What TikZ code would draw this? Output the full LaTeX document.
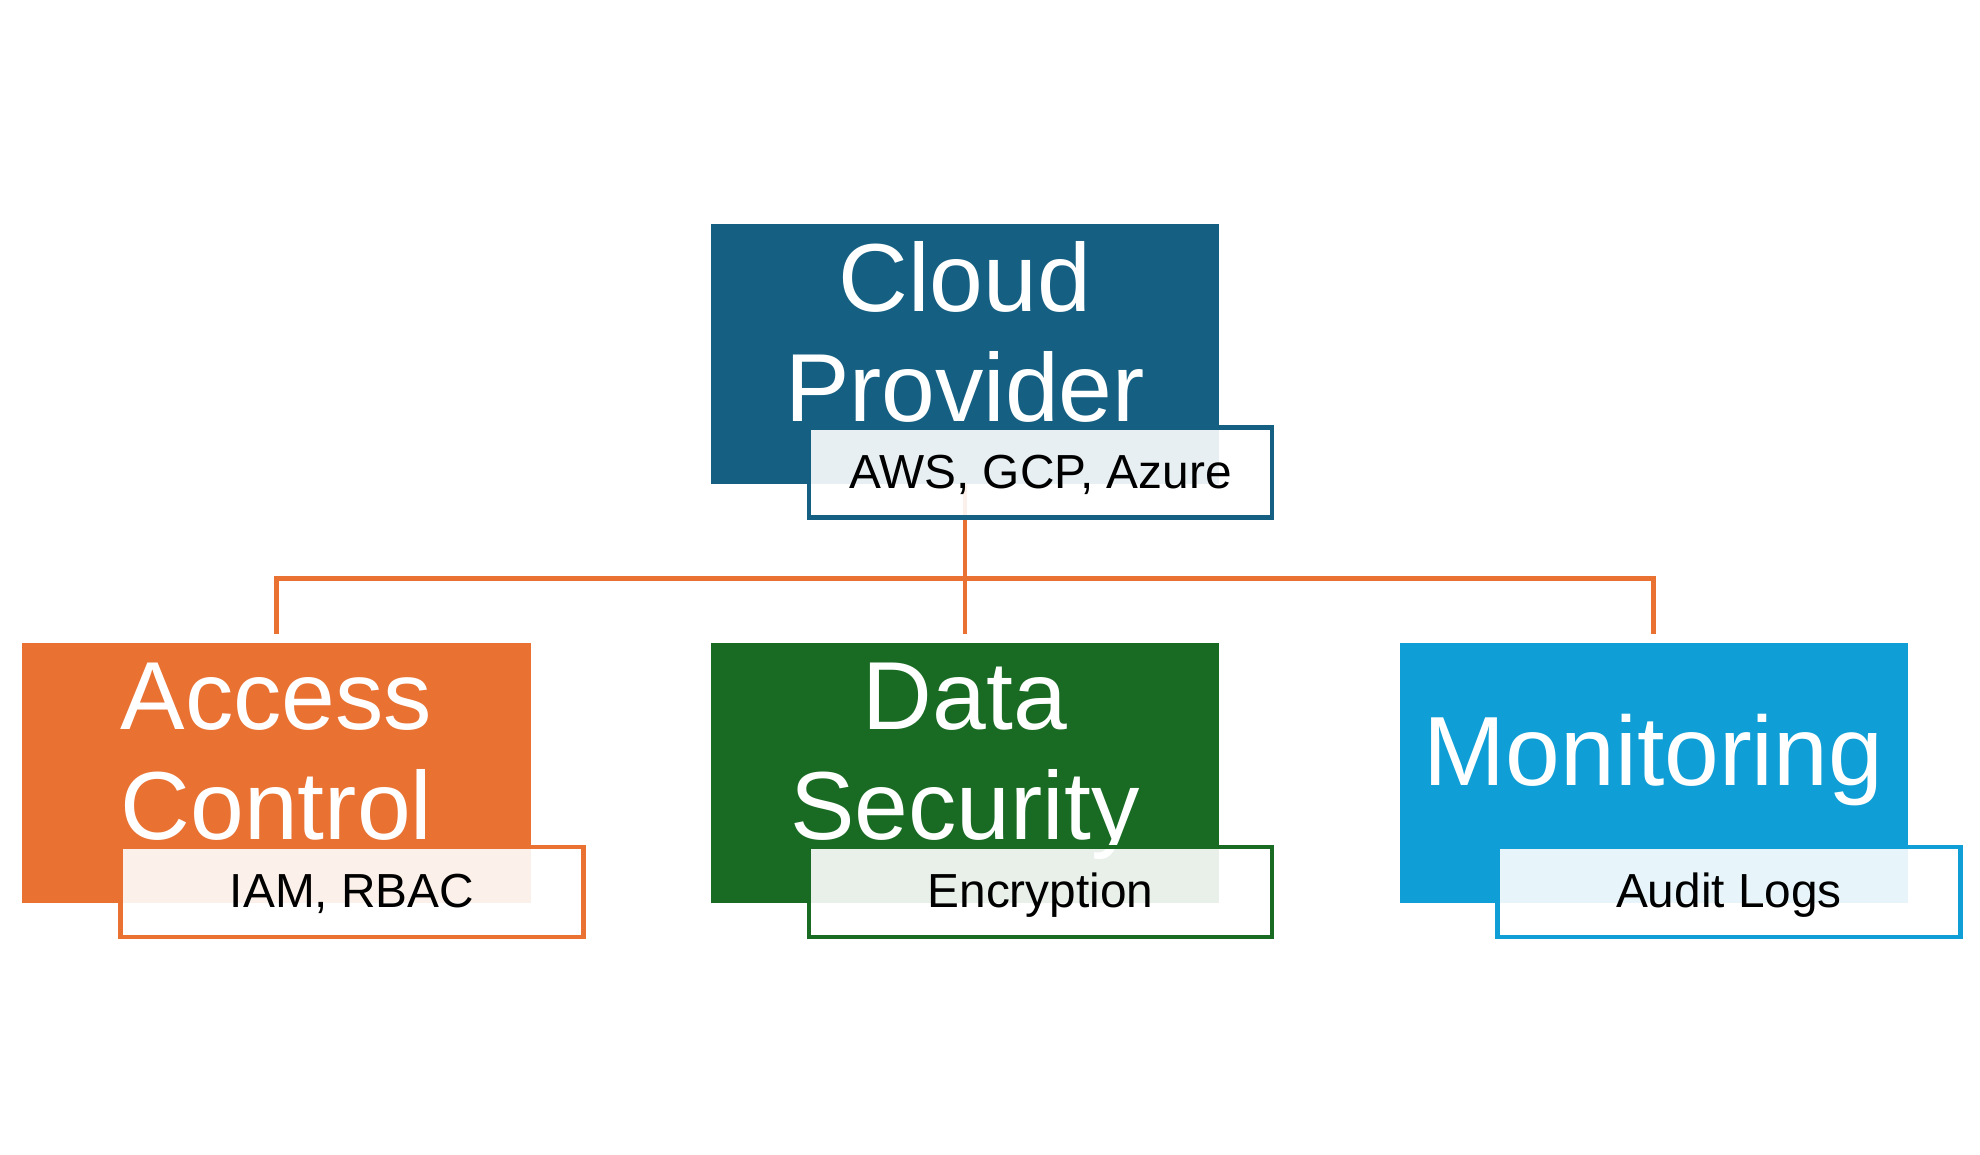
\documentclass[tikz,border=0pt]{standalone}
\usepackage{fontspec}
\setmainfont{Liberation Sans}
\usetikzlibrary{positioning}
\definecolor{cloudblue}{HTML}{156082}
\definecolor{accorange}{HTML}{E97132}
\definecolor{datagreen}{HTML}{196B24}
\definecolor{monblue}{HTML}{0F9ED5}
\begin{document}
\begin{tikzpicture}[align = center, node distance=68.85mm,
    main/.style = {minimum width=50.8mm, minimum height=26mm, inner sep=0pt},
    title/.style = {text=white, font=\fontsize{27.5}{31.3}\selectfont},
    sub/.style = {draw, line width=1.4pt, fill=white, fill opacity=0.9, text opacity=1, minimum width=46.3mm, minimum height=9mm, inner sep=0pt, text height=3.4mm, text depth=0.3mm, font=\fontsize{13.6}{16}\selectfont},
    link/.style = {draw=accorange, line width=1.3pt}]
    \useasboundingbox (0,0) rectangle (19.8,11.55);
            \node[main, fill=cloudblue, label={[title, yshift=2.2mm]center:Cloud\\Provider}] (cloud) at (9.65,8.014) {};
            \node[main, fill=datagreen, label={[title, yshift=1.2mm]center:Data\\Security}] (data) [below of=cloud, node distance=41.94mm] {};
            \node[main, fill=accorange, label={[title, yshift=2.1mm]center:Access\\Control}] (access) [left of=data] {};
            \node[main, fill=monblue, label={[title, yshift=1.3mm, font=\fontsize{28}{33}\selectfont]center:Monitoring}] (mon) [right of=data] {};
            % orange tree lines
            \coordinate (bus) at ([yshift=-9.4mm]cloud.south);
            \draw[link] (cloud.south) -- (bus);
            \draw[link, shorten >=0.8mm] (bus) -| (access.north);
            \draw[link, shorten >=0.8mm] (bus) -- (data.north);
            \draw[link, shorten >=0.8mm] (bus) -| (mon.north);
            % tags
            \node[sub, draw=cloudblue] (cloudtag) at ([xshift=7.55mm, yshift=1.17mm]cloud.south) {AWS, GCP, Azure};
            \node[sub, draw=accorange] (accesstag) at ([xshift=7.55mm, yshift=1.17mm]access.south) {IAM, RBAC};
            \node[sub, draw=datagreen] (datatag) at ([xshift=7.55mm, yshift=1.17mm]data.south) {Encryption};
            \node[sub, draw=monblue] (montag) at ([xshift=7.55mm, yshift=1.17mm]mon.south) {Audit Logs};
        \end{tikzpicture}
\end{document}
